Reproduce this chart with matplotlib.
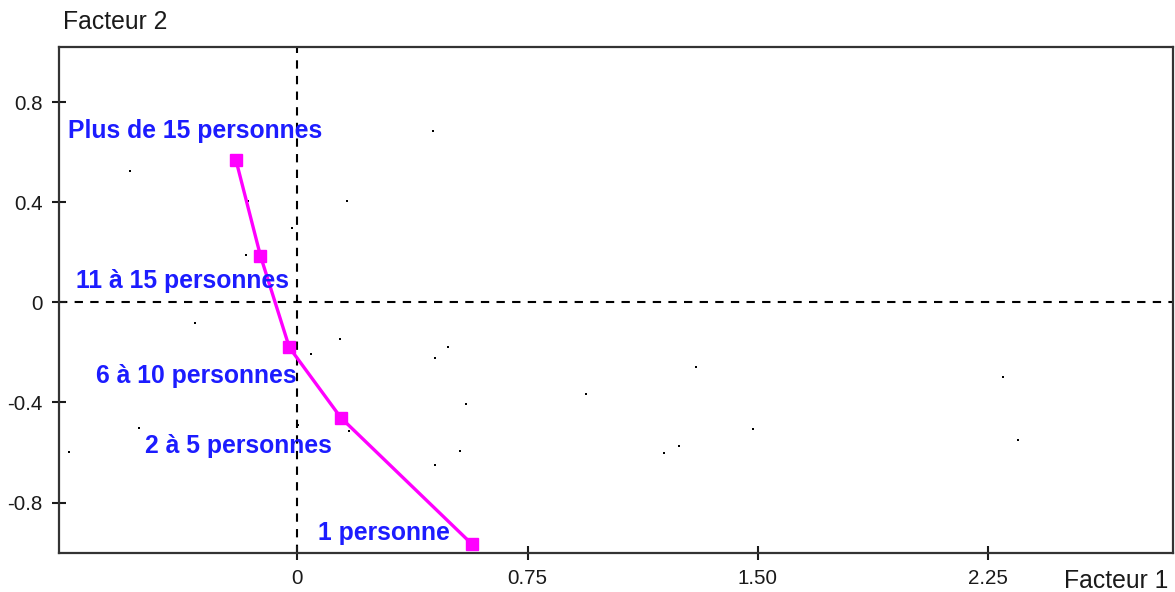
import matplotlib
matplotlib.use("Agg")
import matplotlib.pyplot as plt

plt.rcParams['font.family'] = ['Liberation Sans', 'DejaVu Sans']

# modalities of the supplementary variable (taille de l'entreprise)
labels = ["Plus de 15 personnes", "11 à 15 personnes", "6 à 10 personnes",
          "2 à 5 personnes", "1 personne"]
f1 = [-0.20, -0.12, -0.026, 0.142, 0.569]
f2 = [0.569, 0.186, -0.180, -0.461, -0.966]
# label offsets (pixels) relative to each point
lab_dx = [-41, -78, -93, -102, -88]
lab_dy = [29, -25, -29, -28, 11]

# other (active) points, drawn as tiny dots
dots_x = [-0.545, -0.161, -0.017, -0.167, 0.163, 0.443, -0.333, 0.139, 0.045,
          -0.514, 0.001, 0.169, -0.743, 0.492, 0.448, 0.548, 0.939, 1.299,
          1.485, 1.244, 1.193, 0.530, 0.448, 2.299, 2.348]
dots_y = [0.526, 0.405, 0.297, 0.189, 0.404, 0.686, -0.084, -0.147, -0.207,
          -0.501, -0.490, -0.513, -0.597, -0.177, -0.223, -0.406, -0.368, -0.260,
          -0.505, -0.574, -0.603, -0.595, -0.650, -0.300, -0.551]

xticks = [0, 0.75, 1.50, 2.25]
xtick_labels = ["0", "0.75", "1.50", "2.25"]
yticks = [0.8, 0.4, 0, -0.4, -0.8]
ytick_labels = ["0.8", "0.4", "0", "-0.4", "-0.8"]

fig = plt.figure(figsize=(11.75, 5.92), dpi=100)
ax = fig.add_axes([0.0505, 0.0664, 0.9478, 0.8547])

ax.axhline(0, color='black', lw=1.5, ls=(0, (4, 3.5)), zorder=1)
ax.axvline(0, color='black', lw=1.5, ls=(0, (4, 3.5)), zorder=1)

ax.plot(dots_x, dots_y, 's', color='black', ms=1.8, mew=0, zorder=2)
ax.plot(f1, f2, '-s', color='#ff00ff', lw=2.4, ms=8.5, zorder=3)

for x, y, t, dx, dy in zip(f1, f2, labels, lab_dx, lab_dy):
    ax.annotate(t, (x, y), xytext=(dx, dy), textcoords='offset pixels',
                ha='center', va='center', color='#1c1cff', fontsize=17.8,
                fontweight='bold', zorder=4)

ax.set_xlim(-0.775, 2.852)
ax.set_ylim(-1.0, 1.021)
ax.set_xticks(xticks)
ax.set_xticklabels(xtick_labels)
ax.set_yticks(yticks)
ax.set_yticklabels(ytick_labels)
ax.tick_params(direction='inout', length=10, width=1.5, labelsize=14.8,
               colors='#1a1a1a', pad=7)
for s in ax.spines.values():
    s.set_linewidth(1.6)
    s.set_color('#333333')

fig.text(63 / 1175, 1 - 22 / 592, "Facteur 2", fontsize=17.8, va='center',
         ha='left', color='#1a1a1a')
fig.text(1168 / 1175, 1 - 581 / 592, "Facteur 1", fontsize=17.8, va='center',
         ha='right', color='#1a1a1a')

fig.savefig("out.png", dpi=100)
